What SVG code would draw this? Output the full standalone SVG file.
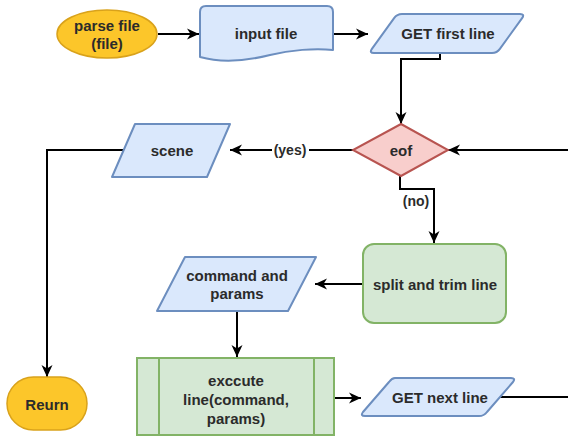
<svg xmlns="http://www.w3.org/2000/svg" width="568" height="437" viewBox="0 0 568 437">
  <style>
    text { font-family: "Liberation Sans", Arial, sans-serif; font-size: 15px; font-weight: bold; fill: #2b2b2b; text-anchor: middle; dominant-baseline: central; }
    .lbl { font-size: 14px; }
    .term { fill: #fcc62a; stroke: #d9a21b; stroke-width: 1.5; }
    .io { fill: #dae8fc; stroke: #6c8ebf; stroke-width: 2; stroke-linejoin: round; }
    .dec { fill: #f8cecc; stroke: #b85450; stroke-width: 2; }
    .proc { fill: #d5e8d4; stroke: #82b366; stroke-width: 2; }
    .edge { fill: none; stroke: #000; stroke-width: 2; }
    .arr { marker-end: url(#arrow); }
  </style>
  <defs>
    <marker id="arrow" markerUnits="userSpaceOnUse" markerWidth="13" markerHeight="12" refX="12" refY="6" orient="auto">
      <path d="M0,0.5 L12,6 L0,11.5 L3.5,6 Z" fill="#000"/>
    </marker>
  </defs>

  <rect width="568" height="437" fill="#fff"/>

  <!-- connectors -->
  <g id="connectors">
    <path class="edge arr" d="M158,34 H199"/>
    <path class="edge arr" d="M333,34 H368"/>
    <path class="edge arr" d="M440,53 V59 H401 V124"/>
    <path class="edge arr" d="M568,150 H448"/>
    <path class="edge arr" d="M353,150 H230"/>
    <rect x="272" y="142" width="37" height="16" fill="#fff"/>
    <text class="lbl" x="290" y="150">(yes)</text>
    <path class="edge arr" d="M123,150 H47 V377"/>
    <path class="edge arr" d="M400,176 V189 H434 V243"/>
    <text class="lbl" x="416" y="201">(no)</text>
    <path class="edge arr" d="M363,284 H315"/>
    <path class="edge arr" d="M237,311 V357"/>
    <path class="edge arr" d="M334,398 H361"/>
    <path class="edge" d="M500,397 H568"/>
  </g>

  <!-- start -->
  <g id="parse-file">
    <ellipse class="term" cx="107" cy="34" rx="50" ry="24"/>
    <text x="107" y="25">parse file</text>
    <text x="107" y="43">(file)</text>
  </g>

  <!-- document -->
  <g id="input-file">
    <path class="io" d="M200,12 Q200,6 206,6 H327 Q333,6 333,12 V50 C315,48 290,50 270,55 C250,60 225,64 200,57 Z"/>
    <text x="266" y="33">input file</text>
  </g>

  <g id="get-first-line">
    <path class="io" d="M402,14 H520 Q525,14 522.1,18.1 L499.9,48.9 Q497,53 492,53 H374 Q369,53 371.9,48.9 L394.1,18.1 Q397,14 402,14 Z"/>
    <text x="448" y="33">GET first line</text>
  </g>

  <g id="eof">
    <polygon class="dec" points="401,124 448,150 401,176 353,150"/>
    <text x="401" y="150">eof</text>
  </g>

  <g id="scene">
    <polygon class="io" points="135,124 230,124 207,177 112,177"/>
    <text x="172" y="150">scene</text>
  </g>

  <g id="split-and-trim">
    <rect class="proc" x="363" y="244" width="143" height="79" rx="11"/>
    <text x="435" y="284">split and trim line</text>
  </g>

  <g id="command-and-params">
    <polygon class="io" points="185,257 316,257 288,311 157,311"/>
    <text x="237" y="275">command and</text>
    <text x="237" y="293">params</text>
  </g>

  <g id="execute-line">
    <rect class="proc" x="137" y="358" width="197" height="77"/>
    <line class="proc" x1="159" y1="358" x2="159" y2="435"/>
    <line class="proc" x1="314" y1="358" x2="314" y2="435"/>
    <text x="236" y="380">exccute</text>
    <text x="236" y="399">line(command,</text>
    <text x="236" y="418">params)</text>
  </g>

  <g id="get-next-line">
    <path class="io" d="M395,378 H511 Q516,378 513,382 L487,412 Q484,416 479,416 H365 Q360,416 363,412 L389,382 Q392,378 395,378 Z"/>
    <text x="440" y="397">GET next line</text>
  </g>

  <g id="return">
    <rect class="term" x="7" y="377" width="80" height="53" rx="26.5"/>
    <text x="47" y="404">Reurn</text>
  </g>
</svg>
